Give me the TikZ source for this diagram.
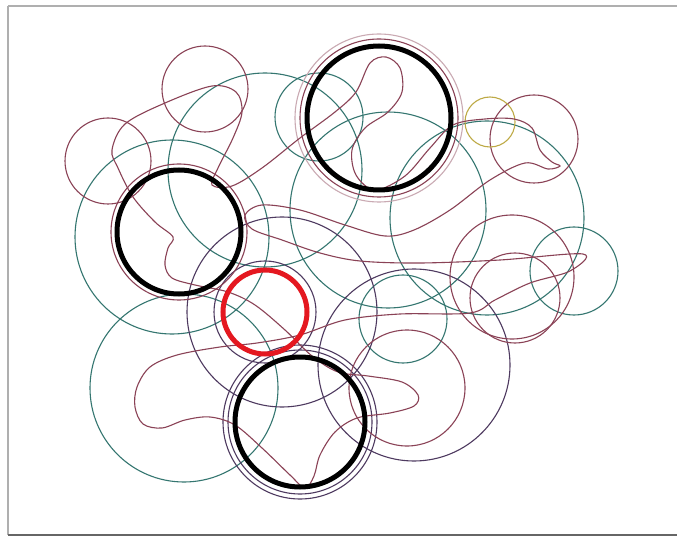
\documentclass[tikz,border=0pt]{standalone}
\usetikzlibrary{calc}
\definecolor{maroon}{RGB}{138,66,86}
\definecolor{tealc}{RGB}{52,118,112}
\definecolor{purp}{RGB}{78,58,96}
\definecolor{olive}{RGB}{190,170,70}
\definecolor{redc}{RGB}{228,24,32}
\definecolor{framec}{RGB}{175,175,175}
\tikzset{
  mc/.style={draw=maroon,line width=1.1pt},
  tc/.style={draw=tealc,line width=1.1pt},
  pc/.style={draw=purp,line width=1.1pt},
  bc/.style={draw=black,line width=5pt},
  rc/.style={draw=redc,line width=5pt},
  pathc/.style={draw=maroon,line width=1.1pt},
  framel/.style={draw=framec,line width=2pt}
}
\begin{document}
\begin{tikzpicture}[x=1pt,y=-1pt]
\useasboundingbox (0,0) rectangle (677,537);
\fill[white] (0,0) rectangle (677,537);
% frame
\draw[framel] (8,6) -- (677,6);
\draw[framel] (8,6) -- (8,535);
\draw[draw=gray!80!black,line width=1.5pt] (8,535) -- (677,535);

% teal circles
\draw[tc] (172,237) circle (97);
\draw[tc] (265,170) circle (97);
\draw[tc] (319,117) circle (44);
\draw[tc] (388,210) circle (98);
\draw[tc] (487,218) circle (97);
\draw[tc] (574,271) circle (44);
\draw[tc] (184,388) circle (94);
\draw[tc] (403,319) circle (44);

% purple circles
\draw[pc] (282,312) circle (95);
\draw[pc] (414,365) circle (96);
\draw[pc] (300,422) circle (77);
\draw[pc] (300,422) circle (72);
\draw[pc] (265,312) circle (51);

% maroon circles
\draw[mc] (205,89) circle (43);
\draw[mc] (108,161) circle (43);
\draw[mc] (534,139) circle (44);
\draw[mc] (512,277) circle (62);
\draw[mc] (515,298) circle (45);
\draw[mc] (407,388) circle (58);
\draw[mc] (379,118) circle (79);
\draw[draw=maroon!45,line width=1.1pt] (379,118) circle (84);
\draw[mc] (179,232) circle (68);
\draw[draw=olive,line width=1.1pt] (490,122) circle (25);

% meandering path
\draw[pathc] plot[smooth cycle, tension=0.55] coordinates {
(112,150) (125,124) (165,103) (212,86) (236,92) (242,112) (233,138)
(218,168) (212,185) (232,186) (262,168) (300,138) (335,112) (356,92)
(370,63) (386,57) (400,68) (402,92) (388,112) (365,128) (352,150)
(356,175) (375,190) (405,176) (430,148) (453,125) (485,119) (514,119)
(532,128) (540,150) (552,162) (560,166) (548,169) (525,163) (490,180)
(450,210) (414,230) (385,236) (345,225) (300,210) (262,205) (245,215)
(252,229) (282,240) (320,253) (360,261) (420,263) (500,260) (583,254)
(570,271) (530,283) (495,300) (470,313) (400,314) (345,320) (300,335)
(257,343) (220,347) (177,355) (150,367) (137,387) (135,407) (143,424)
(162,428) (185,420) (210,417) (235,425) (262,448) (290,475) (305,488)
(314,476) (320,455) (335,432) (357,418) (390,413) (414,406) (418,395)
(402,382) (368,376) (338,372) (312,356) (285,330) (255,305) (228,292)
(195,285) (172,278) (165,265) (168,248) (173,237) (155,222) (133,197)
(118,168)};

% bold circles
\draw[bc] (379,118) circle (72);
\draw[bc] (179,232) circle (62);
\draw[bc] (300,422) circle (65);
\draw[rc] (265,312) circle (42);
\end{tikzpicture}
\end{document}
